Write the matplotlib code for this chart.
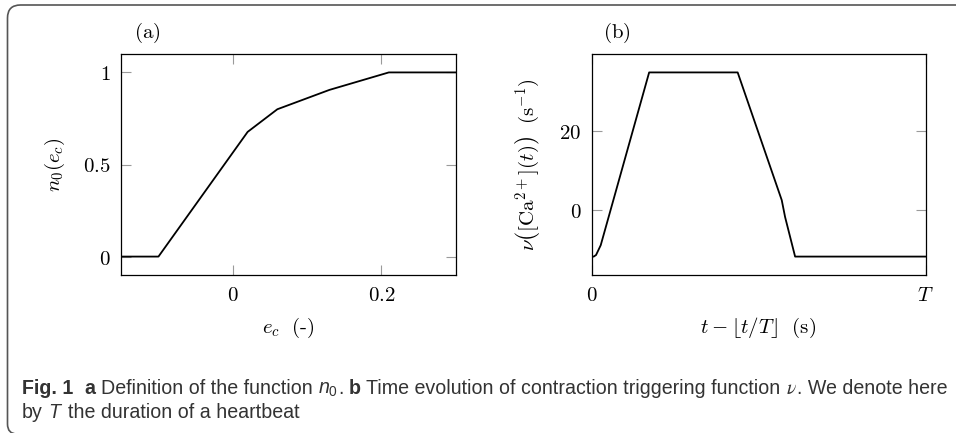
import matplotlib
matplotlib.use("Agg")
import matplotlib.pyplot as plt
import matplotlib.transforms as mtransforms
from matplotlib.path import Path
from matplotlib.patches import PathPatch

# (a) n0(e_c), piecewise linear
ec = [-0.15, -0.1, 0.02, 0.06, 0.13, 0.21, 0.3]
n0 = [0.0, 0.0, 0.677, 0.80, 0.905, 1.0, 1.0]

# (b) nu over one heartbeat (T = 1)
t_beat = [0.0, 0.006, 0.013, 0.027, 0.172, 0.437, 0.569, 0.579, 0.609, 1.0]
nu = [-12.0, -12.0, -11.6, -9.1, 35.0, 35.0, 2.4, -1.9, -12.0, -12.0]

a_xticks = [0, 0.2]
a_xticklabels = ["$0$", "$0.2$"]
a_yticks = [0, 0.5, 1]
a_yticklabels = ["$0$", "$0.5$", "$1$"]
b_xticks = [0, 1]
b_xticklabels = ["$0$", "$T$"]
b_yticks = [0, 20]
b_yticklabels = ["$0$", "$20$"]

plt.rcParams["mathtext.fontset"] = "cm"
plt.rcParams["mathtext.rm"] = "Liberation Sans"
plt.rcParams["mathtext.it"] = "Liberation Sans:italic"
plt.rcParams["mathtext.bf"] = "Liberation Sans:bold"

W, H = 956, 433
fig = plt.figure(figsize=(W / 100, H / 100), dpi=100)
# pixel coordinates, origin top-left
px = mtransforms.Affine2D().scale(1 / W, -1 / H).translate(0, 1) + fig.transFigure

ax1 = fig.add_axes([121.3 / W, 1 - 275 / H, 334.4 / W, 221 / H])
ax2 = fig.add_axes([591.7 / W, 1 - 275 / H, 334.0 / W, 221 / H])

ax1.plot(ec, n0, color="black", lw=1.3)
ax1.set_xlim(-0.15, 0.3)
ax1.set_ylim(-0.1, 1.1)
ax1.set_xticks(a_xticks, a_xticklabels)
ax1.set_yticks(a_yticks, a_yticklabels)

ax2.plot(t_beat, nu, color="black", lw=1.3)
ax2.set_xlim(0, 1)
ax2.set_ylim(-16.7, 39.7)
ax2.set_xticks(b_xticks, b_xticklabels)
ax2.set_yticks(b_yticks, b_yticklabels)

for ax in (ax1, ax2):
    ax.tick_params(direction="in", top=True, right=True, length=7.5, width=0.8,
                   color="#9a9a9a", labelsize=15, pad=7.5)
    for sp in ax.spines.values():
        sp.set_linewidth(0.9)

fig.text(147, 33, r"$(\mathrm{a})$", transform=px, fontsize=15, ha="center", va="center")
fig.text(617, 33, r"$(\mathrm{b})$", transform=px, fontsize=15, ha="center", va="center")

fig.text(288, 328, r"$e_c\ \ (\text{-})$", transform=px, fontsize=15, ha="center", va="center")
fig.text(758, 328, r"$t - \lfloor t/T \rfloor\ \ (\mathrm{s})$", transform=px, fontsize=15,
         ha="center", va="center")
fig.text(55, 165, r"$n_0(e_c)$", transform=px, fontsize=15, ha="center", va="center",
         rotation=90)
fig.text(528, 165, r"$\nu\left([\mathrm{Ca}^{2+}](t)\right)\ \ (\mathrm{s}^{-1})$",
         transform=px, fontsize=15, ha="center", va="center", rotation=90)

# frame: left and top edges with rounded corners (box is cut at right/bottom)
frame_path = Path(
    [(17, 434), (7.5, 434), (7.5, 424), (7.5, 18), (7.5, 5), (20.5, 5), (970, 5)],
    [Path.MOVETO, Path.CURVE3, Path.CURVE3, Path.LINETO, Path.CURVE3, Path.CURVE3, Path.LINETO],
)
fig.patches.append(PathPatch(frame_path, transform=px, fill=False, edgecolor="#555555",
                             lw=1.2, clip_on=False))

# caption, built piece by piece
cap_col = "#333333"
norm = dict(family=["Liberation Sans"], color=cap_col)
bold = dict(norm, weight="bold")
ital = dict(norm, style="italic")
mth_n = dict(color=cap_col, math_fontfamily="custom")
mth_nu = dict(color=cap_col, math_fontfamily="stix")

line1 = [
    ("Fig. 1", bold, 2.0),
    ("a", bold, 1),
    ("Definition of the function", norm, 1),
    ("$n_0$", mth_n, 0),
    (".", norm, 1),
    ("b", bold, 1),
    ("Time evolution of contraction triggering function", norm, 1),
    (r"$\nu$", mth_nu, 0),
    (". We denote here", norm, 0),
]
line2 = [
    ("by", norm, 1),
    ("T", ital, 1.3),
    ("the duration of a heartbeat", norm, 0),
]

renderer = fig.canvas.get_renderer()


def place(pieces, x0, y, size):
    probe = fig.text(0, 0, "a a", transform=px, fontsize=size, **norm)
    probe2 = fig.text(0, 0, "aa", transform=px, fontsize=size, **norm)
    sp = probe.get_window_extent(renderer).width - probe2.get_window_extent(renderer).width
    probe.remove()
    probe2.remove()
    x = x0
    arts = []
    for s, kw, gap in pieces:
        t = fig.text(x, y, s, transform=px, fontsize=size, va="baseline", **kw)
        x += t.get_window_extent(renderer).width + gap * sp
        arts.append(t)
    return x, arts


size = 14
end, arts = place(line1, 22, 394, size)
for a in arts:
    a.remove()
size = size * (950 - 22) / (end - 22)
place(line1, 22, 394, size)
place(line2, 22, 418, size)

fig.savefig("out.png", dpi=100)
